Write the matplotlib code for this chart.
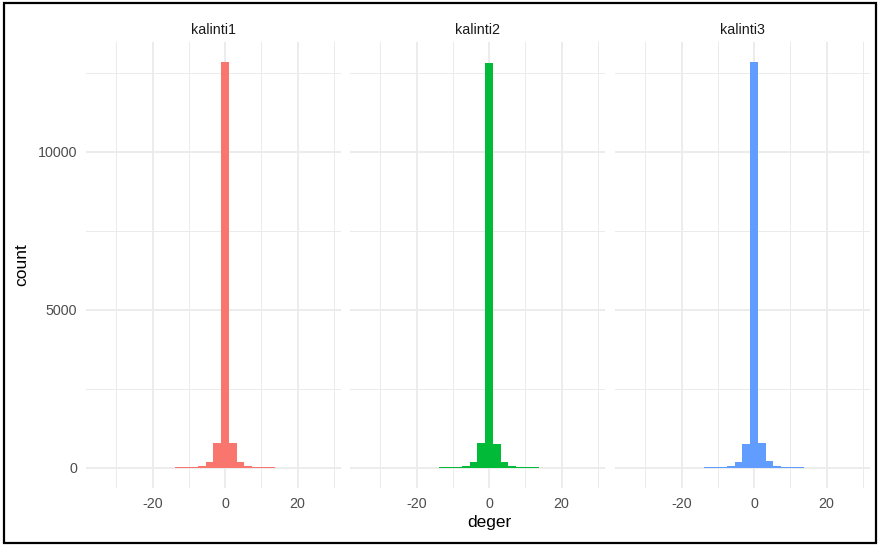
import matplotlib
matplotlib.use("Agg")
import matplotlib.pyplot as plt
from matplotlib.patches import Rectangle
import numpy as np

# ---- data ----
panels = ["kalinti1", "kalinti2", "kalinti3"]
colors = ["#F8766D", "#00BA38", "#619CFF"]
binwidth = 2.13
bin_index = list(range(-16, 14))  # bin centres = index * binwidth
counts_k1 = [1, 0, 1, 0, 1, 1, 2, 2, 3, 4, 12, 15, 20, 40, 175, 785, 12840, 790, 180, 55, 20, 15, 10, 4, 3, 2, 1, 1, 0, 1]
counts_k2 = [1, 0, 0, 1, 1, 1, 2, 2, 3, 4, 12, 15, 20, 45, 170, 790, 12830, 765, 180, 55, 22, 15, 10, 4, 3, 2, 1, 0, 1, 1]
counts_k3 = [1, 1, 0, 1, 0, 1, 2, 3, 3, 5, 12, 15, 20, 45, 170, 760, 12840, 780, 210, 55, 20, 15, 10, 4, 3, 2, 1, 1, 0, 1]
all_counts = [counts_k1, counts_k2, counts_k3]
x_major = [-20, 0, 20]
x_minor = [-30, -10, 10, 30]
y_major = [0, 5000, 10000]
y_minor = [2500, 7500, 12500]

W, H = 879, 546
fig = plt.figure(figsize=(W / 100, H / 100), dpi=100)
fig.patch.set_facecolor("white")
plt.rcParams["font.family"] = ["Liberation Sans", "DejaVu Sans"]

centers = np.array(bin_index) * binwidth
lo = centers[0] - binwidth / 2
hi = centers[-1] + binwidth / 2
rx = hi - lo
xlim = (lo - 0.05 * rx, hi + 0.05 * rx)
ymax = max(max(c) for c in all_counts)
ylim = (-0.05 * ymax, ymax * 1.05)

panel_px = [(86, 341), (350, 605), (615, 870)]
top_px, bot_px = 42, 488
grid_col = "#EBEBEB"

for i, (name, col, cnt) in enumerate(zip(panels, colors, all_counts)):
    l, r = panel_px[i]
    ax = fig.add_axes([l / W, 1 - bot_px / H, (r - l) / W, (bot_px - top_px) / H])
    ax.set_facecolor("white")
    for s in ax.spines.values():
        s.set_visible(False)
    for v in x_minor:
        ax.axvline(v, color=grid_col, lw=0.7, zorder=0)
    for v in x_major:
        ax.axvline(v, color=grid_col, lw=1.3, zorder=0)
    for v in y_minor:
        ax.axhline(v, color=grid_col, lw=0.7, zorder=0)
    for v in y_major:
        ax.axhline(v, color=grid_col, lw=1.3, zorder=0)
    ax.bar(centers, cnt, width=binwidth, color=col, linewidth=0, zorder=2)
    ax.set_xlim(*xlim)
    ax.set_ylim(*ylim)
    ax.set_xticks(x_major)
    ax.set_xticklabels([str(v) for v in x_major])
    ax.tick_params(axis="both", length=0, labelsize=10.3, colors="#4D4D4D")
    ax.tick_params(axis="x", pad=6.5)
    ax.tick_params(axis="y", pad=6.5)
    if i == 0:
        ax.set_yticks(y_major)
        ax.set_yticklabels([str(v) for v in y_major])
    else:
        ax.set_yticks([])
    ax.set_title(name, fontsize=10.3, color="#1A1A1A", pad=5.5)

fig.text(489 / W, 1 - 523 / H, "deger", ha="center", va="center", fontsize=12.5, color="black")
fig.text(22 / W, 1 - 265 / H, "count", ha="center", va="center", rotation=90, fontsize=12.5, color="black")

fig.patches.append(Rectangle((4 / W, 3 / H), (876 - 4) / W, (543 - 3) / H,
                             transform=fig.transFigure, fill=False,
                             edgecolor="black", linewidth=1.6))

fig.savefig("out.png", dpi=100, facecolor="white")
